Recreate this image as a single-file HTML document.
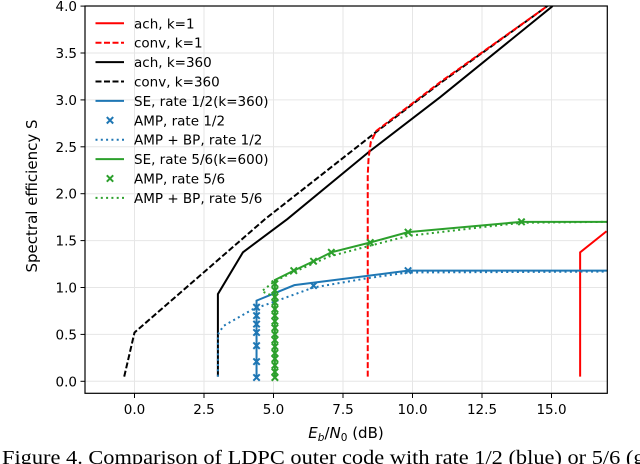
<!DOCTYPE html>
<html><head><meta charset="utf-8">
<style>
html,body{margin:0;padding:0;background:#fff;width:640px;height:464px;overflow:hidden;}
svg{display:block;font-family:"DejaVu Sans","Liberation Sans",sans-serif;}
</style></head>
<body>
<svg id="chart" width="640" height="464" viewBox="0 0 640 464" xmlns="http://www.w3.org/2000/svg">
  <g id="grid"></g>
  <g id="series"></g>
  <rect x="85" y="6" width="522.3" height="387.3" fill="none" stroke="#000" stroke-width="1.2"/>
  <g id="ticks"></g>
  <g id="legend"></g>
  <text transform="translate(37,196) rotate(-90)" text-anchor="middle" font-size="15">Spectral efficiency S</text>
  <text x="346" y="438" text-anchor="middle" font-size="15"><tspan font-style="italic">E</tspan><tspan font-style="italic" font-size="10.5" dy="3">b</tspan><tspan dy="-3">/</tspan><tspan font-style="italic">N</tspan><tspan font-size="10.5" dy="3">0</tspan><tspan dy="-3"> (dB)</tspan></text>
  <text x="2" y="464" font-size="20" font-family="Liberation Serif, serif" textLength="650" lengthAdjust="spacingAndGlyphs">Figure 4.   Comparison of LDPC outer code with rate 1/2 (blue) or 5/6 (gr</text>
</svg>
<script>
const xTicks=[0,2.5,5,7.5,10,12.5,15];
const xTickLabels=["0.0","2.5","5.0","7.5","10.0","12.5","15.0"];
const yTicks=[0,0.5,1,1.5,2,2.5,3,3.5,4];
const yTickLabels=["0.0","0.5","1.0","1.5","2.0","2.5","3.0","3.5","4.0"];

const achK1X=[16.03,16.03,16.98];
const achK1Y=[0.05,1.375,1.6];
const convK1X=[8.39,8.39,8.42,8.5,8.7,11,14.85];
const convK1Y=[0.05,2.2,2.38,2.55,2.67,3.19,4.0];
const achK360X=[3.0,3.0,3.9,5.5,8.45,11,15.04];
const achK360Y=[0.05,0.93,1.375,1.73,2.45,3.03,4.0];
const convK360X=[-0.37,0,4.7,8.7,11,14.85];
const convK360Y=[0.05,0.52,1.73,2.66,3.18,4.0];
const se12X=[4.39,4.39,5.75,9.84,17];
const se12Y=[0.04,0.86,1.025,1.18,1.18];
const amp12X=[4.39,4.39,4.39,4.39,4.39,4.39,4.39,6.44,9.84];
const amp12Y=[0.04,0.21,0.38,0.52,0.61,0.70,0.79,1.02,1.18];
const ampbp12X=[3.0,3.0,3.2,4.27,4.95,6.44,8.4,9.84,17];
const ampbp12Y=[0.05,0.5,0.59,0.77,0.84,1.0,1.1,1.16,1.17];
const se56X=[5.05,5.05,5.73,6.44,7.08,8.48,9.84,13.92,17];
const se56Y=[0.04,1.08,1.18,1.28,1.375,1.48,1.59,1.70,1.70];
const amp56X=[5.05,5.05,5.05,5.05,5.05,5.05,5.05,5.05,5.05,5.05,5.05,5.05,5.05,5.05,5.05,5.05,5.73,6.44,7.08,8.48,9.84,13.92];
const amp56Y=[0.04,0.1,0.17,0.24,0.3,0.37,0.44,0.5,0.57,0.64,0.7,0.77,0.84,0.9,0.97,1.04,1.18,1.28,1.375,1.48,1.59,1.70];
const ampbp56X=[5.05,5.05,4.58,5.05,5.7,7.0,8.4,9.84,12.4,13.92,17];
const ampbp56Y=[0.05,0.9,0.96,1.07,1.16,1.33,1.44,1.55,1.64,1.69,1.70];

const NS="http://www.w3.org/2000/svg";
const X0=134.5, XS=27.8, Y0=381.3, YS=93.8;
function sx(v){return X0+v*XS;}
function sy(v){return Y0-v*YS;}
function mk(tag,attrs,parent){const e=document.createElementNS(NS,tag);for(const k in attrs)e.setAttribute(k,attrs[k]);parent.appendChild(e);return e;}

const grid=document.getElementById('grid');
const ticks=document.getElementById('ticks');
xTicks.forEach((t,i)=>{
  const g=mk('line',{x1:sx(t),x2:sx(t),y1:6,y2:393.3,stroke:'#e6e6e6','stroke-width':1},grid);
  
  
  const tk=mk('line',{x1:sx(t),x2:sx(t),y1:393.3,y2:398,stroke:'#000','stroke-width':1},ticks);
  
  
  const lb=mk('text',{x:sx(t),y:414,'text-anchor':'middle','font-size':13.5},ticks);
  lb.textContent=xTickLabels[i];
  
  
});
yTicks.forEach((t,i)=>{
  const g=mk('line',{x1:85,x2:607.3,y1:sy(t),y2:sy(t),stroke:'#e6e6e6','stroke-width':1},grid);
  
  
  const tk=mk('line',{x1:80.5,x2:85,y1:sy(t),y2:sy(t),stroke:'#000','stroke-width':1},ticks);
  
  
  const lb=mk('text',{x:77,y:sy(t)+5,'text-anchor':'end','font-size':13.5},ticks);
  lb.textContent=yTickLabels[i];
  
  
});

const series=document.getElementById('series');
const clip=mk('clipPath',{id:'pc'},mk('defs',{},document.getElementById('chart')));
mk('rect',{x:85,y:6,width:522.3,height:387.3},clip);
series.setAttribute('clip-path','url(#pc)');

const RED='#ff0000',BLK='#000000',BLU='#1f77b4',GRN='#2ca02c';
const DASH='6,2.5',DOT='2,3.3';
function line(xs,ys,color,dash,name){
  const p=mk('polyline',{points:xs.map((x,i)=>sx(x)+','+sy(ys[i])).join(' '),fill:'none',stroke:color,'stroke-width':2,'stroke-dasharray':dash||'none'},series);
  
  
}
function marks(xs,ys,color,name){
  xs.forEach((x,i)=>{
    const cx=sx(x),cy=sy(ys[i]),r=3.2;
    const m=mk('path',{d:`M${cx-r},${cy-r}L${cx+r},${cy+r}M${cx-r},${cy+r}L${cx+r},${cy-r}`,stroke:color,'stroke-width':2,fill:'none'},series);
    
    
  });
}
line(convK360X,convK360Y,BLK,DASH,'conv-k360-line');
line(achK360X,achK360Y,BLK,null,'ach-k360-line');
line(convK1X,convK1Y,RED,DASH,'conv-k1-line');
line(achK1X,achK1Y,RED,null,'ach-k1-line');
line(se12X,se12Y,BLU,null,'se-rate12-line');
line(ampbp12X,ampbp12Y,BLU,DOT,'ampbp-rate12-line');
marks(amp12X,amp12Y,BLU,'amp-rate12-marker');
line(se56X,se56Y,GRN,null,'se-rate56-line');
line(ampbp56X,ampbp56Y,GRN,DOT,'ampbp-rate56-line');
marks(amp56X,amp56Y,GRN,'amp-rate56-marker');

const legendLabels=["ach, k=1","conv, k=1","ach, k=360","conv, k=360","SE, rate 1/2(k=360)","AMP, rate 1/2","AMP + BP, rate 1/2","SE, rate 5/6(k=600)","AMP, rate 5/6","AMP + BP, rate 5/6"];
const legendColors=[RED,RED,BLK,BLK,BLU,BLU,BLU,GRN,GRN,GRN];
const legendKinds=['solid','dash','solid','dash','solid','mark','dot','solid','mark','dot'];
const leg=document.getElementById('legend');
legendLabels.forEach((lab,i)=>{
  const y=23.3+i*19.4;
  const g=mk('g',{},leg);
  
  
  const k=legendKinds[i];
  if(k==='mark'){
    const cx=110,r=3.2;
    mk('path',{d:`M${cx-r},${y-r}L${cx+r},${y+r}M${cx-r},${y+r}L${cx+r},${y-r}`,stroke:legendColors[i],'stroke-width':2},g);
  }else{
    mk('line',{x1:95.5,x2:124,y1:y,y2:y,stroke:legendColors[i],'stroke-width':2,'stroke-dasharray':k==='dash'?DASH:(k==='dot'?DOT:'none')},g);
  }
  const t=mk('text',{x:134,y:y+5,'font-size':13.5},g);
  t.textContent=lab;
});
</script>
</body></html>
